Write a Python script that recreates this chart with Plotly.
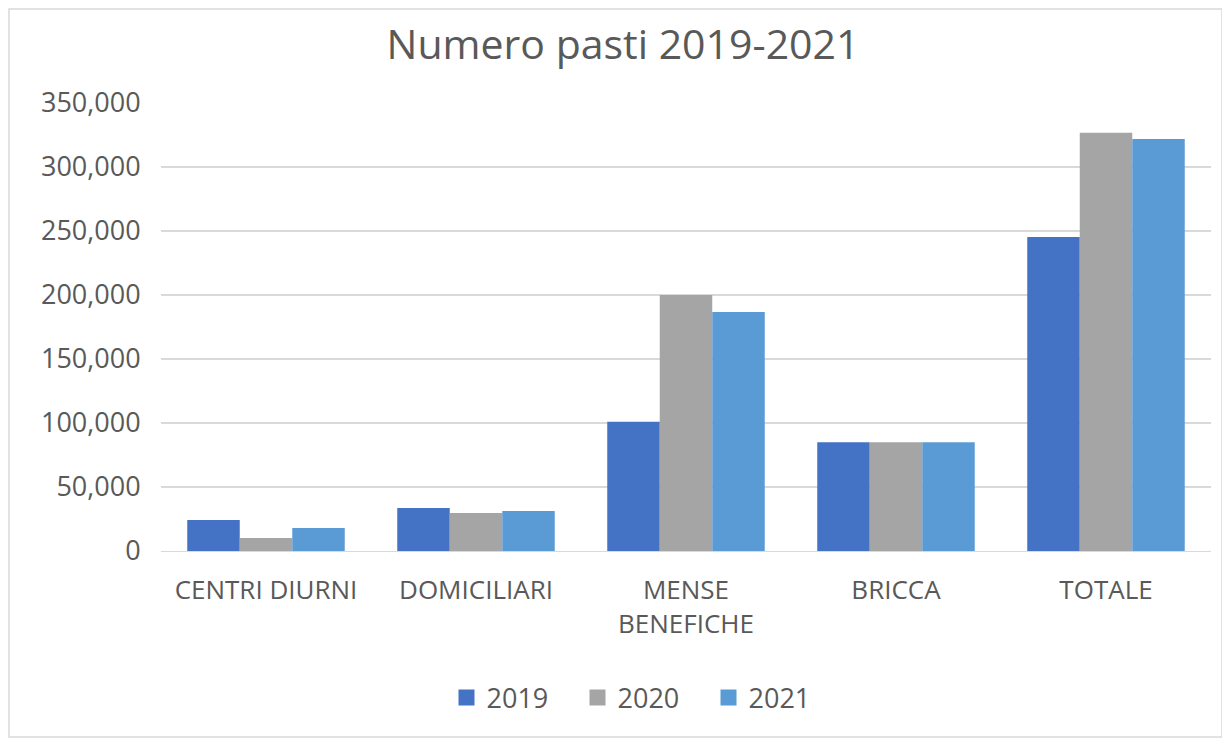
import plotly.graph_objects as go

categories = ["CENTRI DIURNI", "DOMICILIARI", "MENSE<br>BENEFICHE", "BRICCA", "TOTALE"]
years = ["2019", "2020", "2021"]
v2019 = [24200, 33600, 101000, 85000, 245300]
v2020 = [10200, 29700, 200000, 85000, 326800]
v2021 = [18000, 31200, 186700, 85000, 321900]
colors = ["#4472C4", "#A5A5A5", "#5B9BD5"]

fig = go.Figure()
for name, vals, c in zip(years, [v2019, v2020, v2021], colors):
    fig.add_trace(go.Bar(x=categories, y=vals, name=name, showlegend=False, legendgroup=name,
                         marker=dict(color=c, line=dict(width=0))))
for name, c in zip(years, colors):
    fig.add_trace(go.Scatter(x=[None], y=[None], mode="markers", name=name, legendgroup=name,
                             marker=dict(symbol="square", size=18, color=c)))

W, H = 1230, 745
OFF = 8  # page body offset
ml, mr, mt, mb = 161 - OFF, 27, 103 - OFF, 745 - (551 - OFF)
pw, ph = W - ml - mr, H - mt - mb

def px(x):
    return (x - OFF - ml) / pw

def py(y):
    return (H - mb - (y - OFF)) / ph

fig.update_layout(
    width=W, height=H,
    margin=dict(l=ml, r=mr, t=mt, b=mb, autoexpand=False),
    paper_bgcolor="white", plot_bgcolor="white",
    font=dict(family="Open Sans, Noto Sans, sans-serif", color="#595959", size=27),
    title=dict(text="Numero pasti 2019-2021", x=0.5, xanchor="center", y=1 - (45 - OFF) / H, yanchor="middle",
               font=dict(size=41, color="#595959")),
    barmode="group", bargap=0.25, bargroupgap=0,
    showlegend=True,
    legend=dict(orientation="h", x=px(643), xanchor="center", y=py(698), yanchor="middle",
                font=dict(size=27, color="#595959"), traceorder="normal", itemsizing="trace",
                entrywidth=86, entrywidthmode="pixels"),
    xaxis=dict(showgrid=False, showline=True, linecolor="#d9d9d9", linewidth=1,
               ticks="outside", ticklen=16, tickcolor="rgba(0,0,0,0)",
               tickfont=dict(size=26, color="#595959")),
    yaxis=dict(range=[0, 350000], dtick=50000, tickformat=",", showgrid=True, gridcolor="#d9d9d9",
               gridwidth=1.5, zeroline=False, showline=False, ticks="outside", ticklen=14,
               tickcolor="rgba(0,0,0,0)", tickfont=dict(size=27, color="#595959")),
    shapes=[dict(type="rect", xref="paper", yref="paper",
                 x0=px(9), x1=px(1222), y0=py(737), y1=py(9),
                 line=dict(color="#d9d9d9", width=1.5), fillcolor="rgba(0,0,0,0)", layer="below")],
)

fig.write_html("out.html")
